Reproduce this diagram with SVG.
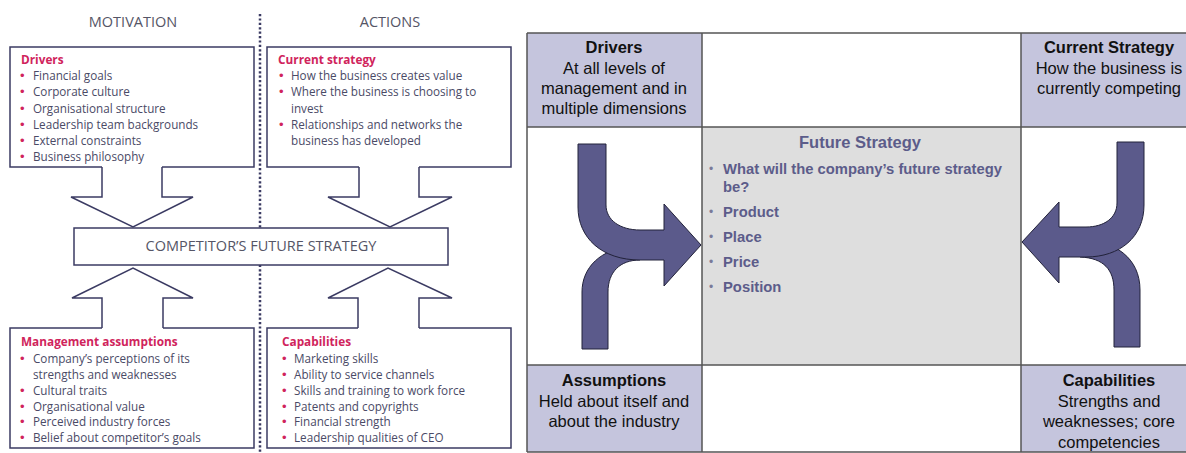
<svg xmlns="http://www.w3.org/2000/svg" width="1186" height="453" viewBox="0 0 1186 453">
<defs>
<style>
.ttl{font-family:"Open Sans","Liberation Sans",sans-serif;font-size:14.5px;fill:#555566;text-anchor:middle}
.hd{font-family:"Open Sans","Liberation Sans",sans-serif;font-size:11.8px;font-weight:bold;fill:#d0245c}
.it{font-family:"Open Sans","Liberation Sans",sans-serif;font-size:11.7px;fill:#4a4a66}
.bl{font-family:"Liberation Sans",Arial,sans-serif;font-size:13px;fill:#d0245c}
.box{fill:#fff;stroke:#3b3b63;stroke-width:1.5}
.blk{fill:#fff;stroke:#3b3b63;stroke-width:1.5;stroke-linejoin:miter}
.grid{stroke:#555;stroke-width:1.5;fill:none}
.pur{fill:#c5c5dd}
.gry{fill:#dedede}
.rh{font-family:"Liberation Sans",Arial,sans-serif;font-size:16.5px;font-weight:bold;fill:#111;text-anchor:middle}
.rt{font-family:"Liberation Sans",Arial,sans-serif;font-size:16.5px;fill:#111;text-anchor:middle}
.fh{font-family:"Liberation Sans",Arial,sans-serif;font-size:16.5px;font-weight:bold;fill:#5c5c8a;text-anchor:middle}
.ft{font-family:"Liberation Sans",Arial,sans-serif;font-size:14.8px;font-weight:bold;fill:#5c5c8a}
.fb{font-family:"Liberation Sans",Arial,sans-serif;font-size:12px;fill:#7a7a99}
.arr{fill:#5b5a8b;stroke:#22223a;stroke-width:1}
</style>
</defs>
<rect width="1186" height="453" fill="#fff"/>

<!-- LEFT DIAGRAM -->
<g id="titles">
<text class="ttl" x="133" y="27">MOTIVATION</text>
<text class="ttl" x="390" y="27">ACTIONS</text>
</g>
<line x1="260" y1="14" x2="260" y2="453" stroke="#3b3b63" stroke-width="2.5" stroke-dasharray="2.2 2.2"/>

<g id="drivers-box">
<path class="box" d="M102,167 H10 V47 H254 V167 H162"/>
<text class="hd" x="21" y="64">Drivers</text>
<g class="bl"><text x="20" y="80">•</text><text x="20" y="96">•</text><text x="20" y="112.5">•</text><text x="20" y="128.5">•</text><text x="20" y="144.5">•</text><text x="20" y="160.7">•</text></g>
<text class="it" x="33" y="80">Financial goals</text>
<text class="it" x="33" y="96">Corporate culture</text>
<text class="it" x="33" y="112.5">Organisational structure</text>
<text class="it" x="33" y="128.5">Leadership team backgrounds</text>
<text class="it" x="33" y="144.5">External constraints</text>
<text class="it" x="33" y="160.7">Business philosophy</text>
</g>

<g id="current-strategy-box">
<path class="box" d="M359,167 H267 V47 H511 V167 H419"/>
<text class="hd" x="278" y="64">Current strategy</text>
<g class="bl"><text x="279" y="80">•</text><text x="279" y="96">•</text><text x="279" y="128.5">•</text></g>
<text class="it" x="291" y="80">How the business creates value</text>
<text class="it" x="291" y="96">Where the business is choosing to</text>
<text class="it" x="291" y="112.5">invest</text>
<text class="it" x="291" y="128.5">Relationships and networks the</text>
<text class="it" x="291" y="144.5">business has developed</text>
</g>

<g id="future-strategy-box">
<rect class="box" x="74" y="228" width="374" height="37"/>
<text class="ttl" x="261" y="251">COMPETITOR’S FUTURE STRATEGY</text>
</g>

<g id="assumptions-box">
<path class="box" d="M102,328 H10 V448 H254 V328 H163"/>
<text class="hd" x="21" y="346">Management assumptions</text>
<g class="bl"><text x="20" y="362.5">•</text><text x="20" y="394.5">•</text><text x="20" y="410.5">•</text><text x="20" y="426">•</text><text x="20" y="442">•</text></g>
<text class="it" x="33" y="362.5">Company’s perceptions of its</text>
<text class="it" x="33" y="378.5">strengths and weaknesses</text>
<text class="it" x="33" y="394.5">Cultural traits</text>
<text class="it" x="33" y="410.5">Organisational value</text>
<text class="it" x="33" y="426">Perceived industry forces</text>
<text class="it" x="33" y="442">Belief about competitor’s goals</text>
</g>

<g id="capabilities-box">
<path class="box" d="M358,328 H267 V448 H511 V328 H419"/>
<text class="hd" x="282" y="346">Capabilities</text>
<g class="bl"><text x="282" y="362.5">•</text><text x="282" y="378.5">•</text><text x="282" y="394.5">•</text><text x="282" y="410.5">•</text><text x="282" y="426">•</text><text x="282" y="442">•</text></g>
<text class="it" x="294" y="362.5">Marketing skills</text>
<text class="it" x="294" y="378.5">Ability to service channels</text>
<text class="it" x="294" y="394.5">Skills and training to work force</text>
<text class="it" x="294" y="410.5">Patents and copyrights</text>
<text class="it" x="294" y="426">Financial strength</text>
<text class="it" x="294" y="442">Leadership qualities of CEO</text>
</g>

<g id="connectors">
<path class="blk" d="M102,167 V197 H71 L133,227 L193,197 H162 V167"/>
<path class="blk" d="M359,167 V197 H328 L390,227 L452,197 H419 V167"/>
<path class="blk" d="M102,328 V298 H72 L133,268 L193,298 H163 V328"/>
<path class="blk" d="M358,328 V298 H328 L388,268 L452,298 H419 V328"/>
</g>

<!-- RIGHT DIAGRAM -->
<g id="grid">
<rect class="pur" x="527" y="33" width="175" height="94"/>
<rect class="pur" x="1021" y="33" width="170" height="94"/>
<rect class="gry" x="702" y="127" width="319" height="238"/>
<rect class="pur" x="527" y="365" width="175" height="87"/>
<rect class="pur" x="1021" y="365" width="170" height="87"/>
<path class="grid" d="M527,33 H1192 M527,127 H1192 M527,365 H1192 M527,452 H1192 M527,33 V452 M702,33 V452 M1021,33 V452"/>
</g>

<g id="r-drivers">
<text class="rh" x="614" y="53">Drivers</text>
<text class="rt" x="614" y="74">At all levels  of</text>
<text class="rt" x="614" y="94">management and in</text>
<text class="rt" x="614" y="114">multiple dimensions</text>
</g>
<g id="r-current">
<text class="rh" x="1109" y="53">Current Strategy</text>
<text class="rt" x="1109" y="74">How the business is</text>
<text class="rt" x="1109" y="94">currently competing</text>
</g>
<g id="r-future">
<text class="fh" x="860" y="148">Future Strategy</text>
<g class="fb"><text x="709" y="173">•</text><text x="709" y="216">•</text><text x="709" y="241">•</text><text x="709" y="266">•</text><text x="709" y="291">•</text></g>
<text class="ft" x="723" y="174">What will the company’s future strategy</text>
<text class="ft" x="723" y="192">be?</text>
<text class="ft" x="723" y="217">Product</text>
<text class="ft" x="723" y="242">Place</text>
<text class="ft" x="723" y="267">Price</text>
<text class="ft" x="723" y="292">Position</text>
</g>
<g id="r-assumptions">
<text class="rh" x="614" y="386">Assumptions</text>
<text class="rt" x="614" y="407">Held about itself and</text>
<text class="rt" x="614" y="427">about the industry</text>
</g>
<g id="r-capabilities">
<text class="rh" x="1109" y="386">Capabilities</text>
<text class="rt" x="1109" y="407">Strengths and</text>
<text class="rt" x="1109" y="427">weaknesses; core</text>
<text class="rt" x="1109" y="448">competencies</text>
</g>

<g id="r-arrows">
<path class="arr" d="M582,349 L582,292 C582,268 600,248 635,246 L640,246 L640,260 C620,260 608,272 608,292 L608,349 Z"/>
<path class="arr" d="M578,144 L606,144 L606,205 C606,220 620,230 640,230 L664,230 L664,204 L701,245 L664,286 L664,260 L640,260 C602,260 578,238 578,207 Z"/>
<path class="arr" d="M1114,347 L1114,290 C1114,270 1104,258 1080,257 L1080,240 C1115,240 1140,258 1140,290 L1140,347 Z"/>
<path class="arr" d="M1144,142 L1117,142 L1117,203 C1117,218 1104,227 1086,227 L1059,227 L1059,202 L1022,242 L1059,283 L1059,257 L1086,257 C1120,257 1144,237 1144,205 Z"/>
</g>
</svg>
